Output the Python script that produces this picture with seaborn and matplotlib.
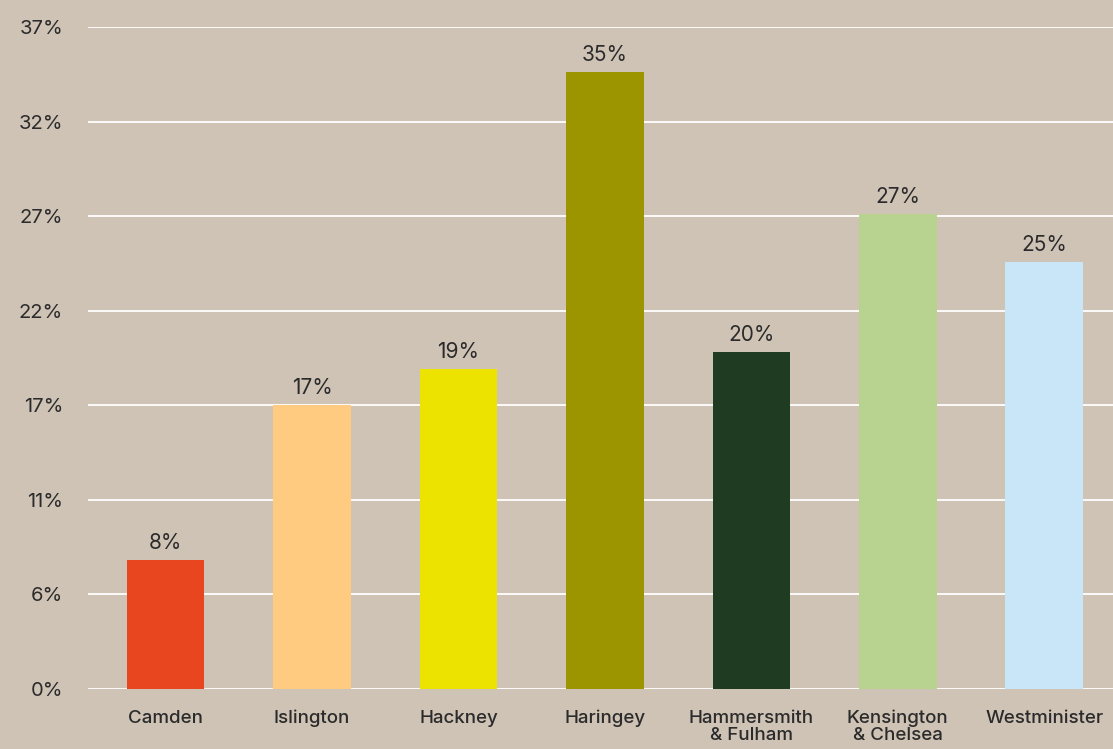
import numpy as np
import pandas as pd
import seaborn as sns
import matplotlib.pyplot as plt

# data
boroughs = ["Camden", "Islington", "Hackney", "Haringey",
            "Hammersmith\n& Fulham", "Kensington\n& Chelsea", "Westminister"]
share = [7.8, 17.0, 18.9, 34.6, 19.8, 27.1, 24.6]
bar_colors = ["#e8461e", "#fecb80", "#ece300", "#9c9500",
              "#1f3b21", "#b8d38f", "#c9e6f8"]
# the axis labels are evenly spaced, but the values are not
tick_vals = [0, 6, 11, 17, 22, 27, 32, 37]
tick_labels = ["0%", "6%", "11%", "17%", "22%", "27%", "32%", "37%"]

bg = "#cfc3b6"
ink = "#2b2b2b"

df = pd.DataFrame({"borough": boroughs, "share": share})

sns.set_style("white")
plt.rcParams["font.family"] = ["Inter", "DejaVu Sans"]

fig = plt.figure(figsize=(11.13, 7.49), dpi=100, facecolor=bg)
ax = fig.add_axes([88 / 1113, 1 - 689 / 749, 1 - 88 / 1113, (689 - 27) / 749])
ax.set_facecolor(bg)

# piecewise scale so the uneven tick values sit at equal spacing
pos = np.arange(len(tick_vals), dtype=float)
fwd = lambda v: np.interp(v, tick_vals, pos)
inv = lambda p: np.interp(p, pos, tick_vals)
ax.set_yscale("function", functions=(fwd, inv))

sns.barplot(data=df, x="borough", y="share", hue="borough", palette=bar_colors,
            width=0.53, legend=False, ax=ax, zorder=3, saturation=1, linewidth=0)

ax.set_ylim(0, 37)
ax.set_xlim(-0.53, 6.47)
ax.set_yticks(tick_vals)
ax.set_yticklabels(tick_labels)
ax.yaxis.grid(True, color="white", linewidth=1.3, zorder=0)
ax.set_axisbelow(True)
for s in ax.spines.values():
    s.set_visible(False)

ax.tick_params(axis="y", length=0, pad=18, labelsize=14.5, labelcolor=ink)
ax.tick_params(axis="x", length=0, pad=15, labelsize=13.5, labelcolor=ink)
for t in ax.get_xticklabels():
    t.set_fontweight("medium")
    t.set_linespacing(1.0)
ax.set_xlabel("")
ax.set_ylabel("")

for i, v in enumerate(share):
    ax.annotate(f"{v:.0f}%", (i, v), xytext=(0, 5), textcoords="offset points",
                ha="center", va="bottom", fontsize=15, color=ink)

fig.savefig("out.png", dpi=100, facecolor=bg)
